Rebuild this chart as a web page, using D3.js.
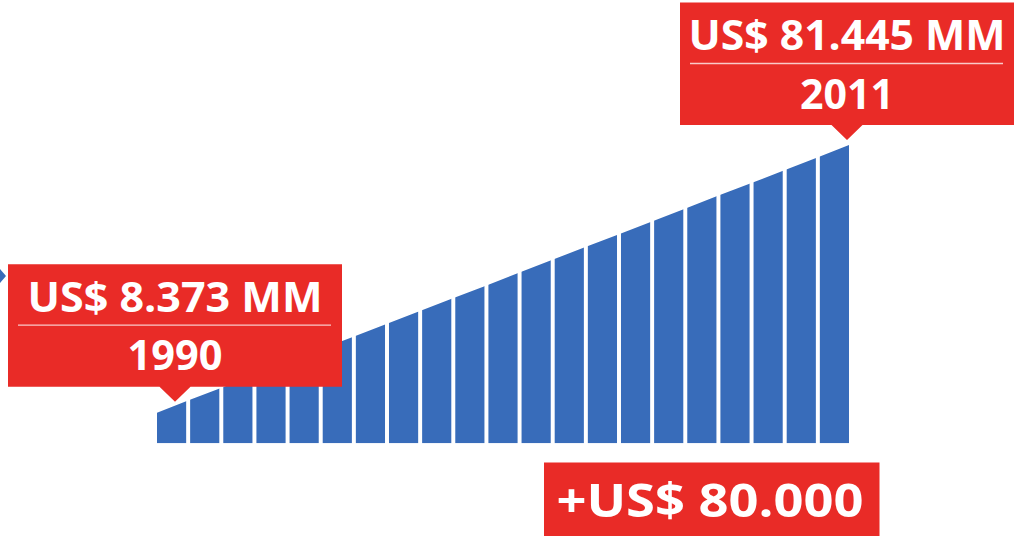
<!DOCTYPE html>
<html>
<head>
<meta charset="utf-8">
<script src="https://cdn.jsdelivr.net/npm/d3@7"></script>
<style>
  body { margin: 0; background: #fff; }
  svg { display: block; }
  text { font-family: "Open Sans", sans-serif; font-weight: 700; fill: #fff; }
</style>
</head>
<body>
<div id="chart"></div>
<script>
// values (US$ MM, one per year edge)
const years = [1990, 1991, 1992, 1993, 1994, 1995, 1996, 1997, 1998, 1999, 2000,
               2001, 2002, 2003, 2004, 2005, 2006, 2007, 2008, 2009, 2010, 2011];
const values = [8.373, 11.9, 15.3, 18.8, 22.3, 25.8, 29.2, 32.7, 36.2, 39.7, 43.1,
                46.6, 50.1, 53.6, 57.0, 60.5, 64.0, 67.5, 70.9, 74.4, 77.9, 81.445];

const calloutValues = ["US$ 8.373 MM", "US$ 81.445 MM"];
const calloutYears = ["1990", "2011"];
const totalLabel = "+US$ 80.000";

const W = 1017, H = 537;
const red = "#e92b27", blue = "#386cba";

const svg = d3.select("#chart").append("svg")
    .attr("width", W).attr("height", H);

svg.append("rect").attr("width", W).attr("height", H).attr("fill", "#fff");

const data = years.map((yr, i) => ({year: yr, value: values[i]}));

const x = d3.scaleLinear().domain([years[0], years[years.length - 1]]).range([157, 849]);
const y = d3.scaleLinear().domain([0, 81.445]).range([443.3, 145]);

// one strip between every pair of years
const strips = years.slice(0, -1).map(String);
const band = d3.scaleBand().domain(strips).range([157, 849]).paddingInner(0.12);

const area = d3.area()
    .x(d => x(d.year))
    .y0(y(0))
    .y1(d => y(d.value));

svg.append("clipPath").attr("id", "ramp")
    .append("path").attr("d", area(data));

svg.append("g")
    .attr("clip-path", "url(#ramp)")
    .selectAll("rect")
    .data(strips)
    .join("rect")
    .attr("x", d => band(d))
    .attr("width", band.bandwidth())
    .attr("y", y.range()[1] - 20)
    .attr("height", y(0) - y.range()[1] + 20)
    .attr("fill", blue);

// little cut-off arrow at the left edge
svg.append("path")
    .attr("d", "M0,269 L6,276 L0,283 Z")
    .attr("fill", blue);

// callouts
const boxW = 334, boxH = 122.5, tipH = 15, tipHalf = 15.5;
const callouts = [
    {tipX: x(1990) + 18, tipY: y(values[0]) - 11, val: calloutValues[0], yr: calloutYears[0], valLen: 295, yrLen: 95},
    {tipX: x(2011) - 2, tipY: y(values[values.length - 1]) - 5, val: calloutValues[1], yr: calloutYears[1], valLen: 317, yrLen: 94}
];

callouts.forEach(c => {
    const bottom = c.tipY - tipH;
    const top = bottom - boxH;
    const left = c.tipX - boxW / 2;
    const g = svg.append("g");

    g.append("path")
        .attr("d", `M${left},${top} H${left + boxW} V${bottom} H${c.tipX + tipHalf} L${c.tipX},${c.tipY} L${c.tipX - tipHalf},${bottom} H${left} Z`)
        .attr("fill", red);

    g.append("text")
        .attr("x", c.tipX).attr("y", top + 47.5)
        .attr("text-anchor", "middle")
        .attr("font-size", 42)
        .attr("textLength", c.valLen)
        .attr("lengthAdjust", "spacingAndGlyphs")
        .text(c.val);

    g.append("line")
        .attr("x1", left + 10).attr("x2", left + boxW - 11)
        .attr("y1", top + 61).attr("y2", top + 61)
        .attr("stroke", "rgba(255,255,255,0.75)")
        .attr("stroke-width", 1.3);

    g.append("text")
        .attr("x", c.tipX).attr("y", top + 106)
        .attr("text-anchor", "middle")
        .attr("font-size", 41)
        .attr("textLength", c.yrLen)
        .attr("lengthAdjust", "spacingAndGlyphs")
        .text(c.yr);
});

// total growth box
const tot = svg.append("g");
tot.append("rect")
    .attr("x", 544).attr("y", 462.5)
    .attr("width", 335.5).attr("height", 73.5)
    .attr("fill", red);
tot.append("text")
    .attr("x", 710).attr("y", 517)
    .attr("text-anchor", "middle")
    .attr("font-size", 47)
    .attr("textLength", 307)
    .attr("lengthAdjust", "spacingAndGlyphs")
    .text(totalLabel);
</script>
</body>
</html>
